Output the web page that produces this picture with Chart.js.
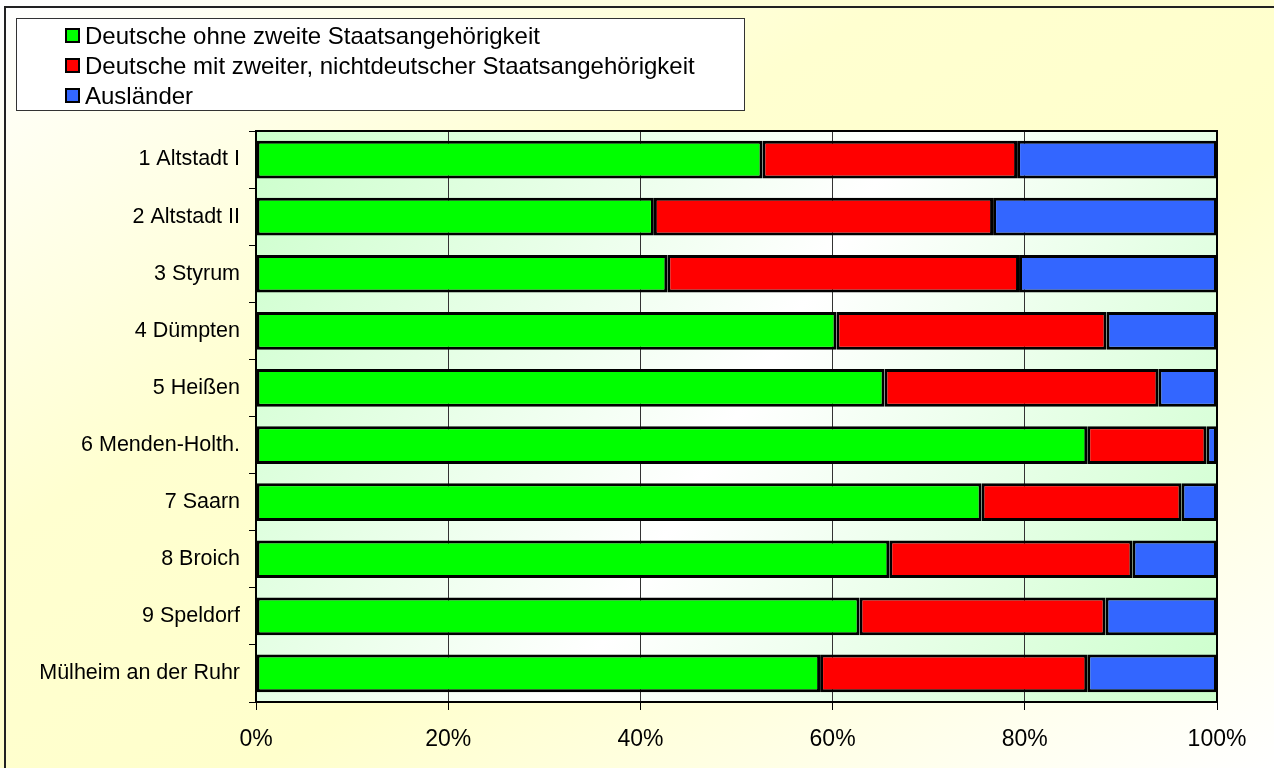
<!DOCTYPE html>
<html>
<head>
<meta charset="utf-8">
<script src="https://cdn.jsdelivr.net/npm/chart.js@4"></script>
<style>
  html, body { margin: 0; padding: 0; }
  body { width: 1274px; height: 768px; overflow: hidden;
         background: linear-gradient(to bottom right, #ffffff 0%, #ffffd0 35%, #ffffcc 60%, #ffffff 100%); }
  #wrap { position: relative; width: 1274px; height: 768px; }
</style>
</head>
<body>
<div id="wrap"><canvas id="chart" width="1274" height="768"></canvas></div>
<script>
// districts of Mülheim an der Ruhr, share of population in %
const categories = ['1 Altstadt I', '2 Altstadt II', '3 Styrum', '4 Dümpten', '5 Heißen',
  '6 Menden-Holth.', '7 Saarn', '8 Broich', '9 Speldorf', 'Mülheim an der Ruhr'];
const seriesNames = ['Deutsche ohne zweite Staatsangehörigkeit',
  'Deutsche mit zweiter, nichtdeutscher Staatsangehörigkeit', 'Ausländer'];
const germanOnly = [52.7, 41.4, 42.8, 60.4, 65.4, 86.5, 75.5, 65.9, 62.8, 58.7];
const germanDual = [26.5, 35.3, 36.6, 28.1, 28.5, 12.4, 20.8, 25.3, 25.6, 27.8];
const foreigners = [20.8, 23.3, 20.6, 11.5, 6.1, 1.1, 3.7, 8.8, 11.6, 13.5];
const xTicks = [0, 20, 40, 60, 80, 100];

const FONT = '"Liberation Sans", Arial, sans-serif';

// plot background + outer frame
const frame = {
  id: 'frame',
  beforeDraw(chart) {
    const { ctx, chartArea: a } = chart;
    ctx.save();
    const g = ctx.createLinearGradient(a.left, a.top, a.right, a.bottom);
    g.addColorStop(0, '#ccffcc');
    g.addColorStop(0.5, '#ffffff');
    g.addColorStop(1, '#ccffcc');
    ctx.fillStyle = g;
    ctx.fillRect(a.left, a.top, a.right - a.left, a.bottom - a.top);
    // chart border (left and top visible)
    ctx.strokeStyle = '#222';
    ctx.lineWidth = 2;
    ctx.beginPath();
    ctx.moveTo(5, chart.height);
    ctx.lineTo(5, 7);
    ctx.lineTo(chart.width, 7);
    ctx.stroke();
    ctx.restore();
  },
  afterDatasetsDraw(chart) {
    const { ctx, chartArea: a } = chart;
    ctx.save();
    ctx.strokeStyle = '#000';
    ctx.lineWidth = 2;
    ctx.strokeRect(a.left, a.top, a.right - a.left, a.bottom - a.top);
    ctx.restore();
  }
};

// boxed legend, top left
const boxLegend = {
  id: 'boxLegend',
  afterDraw(chart) {
    const ctx = chart.ctx;
    ctx.save();
    ctx.fillStyle = '#fff';
    ctx.fillRect(16, 18, 729, 92);
    ctx.strokeStyle = '#333';
    ctx.lineWidth = 1;
    ctx.strokeRect(16.5, 18.5, 728, 92);
    ctx.font = '24px ' + FONT;
    ctx.textBaseline = 'middle';
    chart.data.datasets.forEach((ds, i) => {
      const y = 36 + i * 30;
      ctx.fillStyle = ds.backgroundColor;
      ctx.fillRect(66, y - 7, 13, 13);
      ctx.strokeStyle = '#000';
      ctx.lineWidth = 2;
      ctx.strokeRect(66, y - 7, 13, 13);
      ctx.fillStyle = '#000';
      ctx.fillText(ds.label, 85, y + 1);
    });
    ctx.restore();
  }
};

const barStyle = { borderColor: '#000', borderWidth: 3, borderSkipped: false,
  barPercentage: 0.66, categoryPercentage: 1 };

new Chart(document.getElementById('chart'), {
  type: 'bar',
  data: {
    labels: categories,
    datasets: [
      { label: seriesNames[0], data: germanOnly, backgroundColor: '#00ff00', ...barStyle },
      { label: seriesNames[1], data: germanDual, backgroundColor: '#ff0000', ...barStyle },
      { label: seriesNames[2], data: foreigners, backgroundColor: '#3366ff', ...barStyle }
    ]
  },
  options: {
    indexAxis: 'y',
    responsive: false,
    animation: false,
    layout: { padding: { top: 131, right: 57, left: 0, bottom: 0 } },
    plugins: { legend: { display: false }, tooltip: { enabled: false } },
    scales: {
      x: {
        stacked: true, min: 0, max: 100,
        afterBuildTicks: s => { s.ticks = xTicks.map(v => ({ value: v })); },
        afterFit: s => { s.height = 66; },
        grid: { color: '#333', lineWidth: 1, tickColor: '#000', tickLength: 8 },
        border: { color: '#000', width: 2 },
        ticks: { color: '#000', font: { family: FONT, size: 23 }, padding: 16,
                 callback: v => v + '%' }
      },
      y: {
        stacked: true,
        afterFit: s => { s.width = 256; },
        grid: { offset: true, drawOnChartArea: false, color: '#000', tickLength: 7 },
        border: { color: '#000', width: 2 },
        ticks: { color: '#000', font: { family: FONT, size: 21.5 }, padding: 9 }
      }
    }
  },
  plugins: [frame, boxLegend]
});
</script>
</body>
</html>
